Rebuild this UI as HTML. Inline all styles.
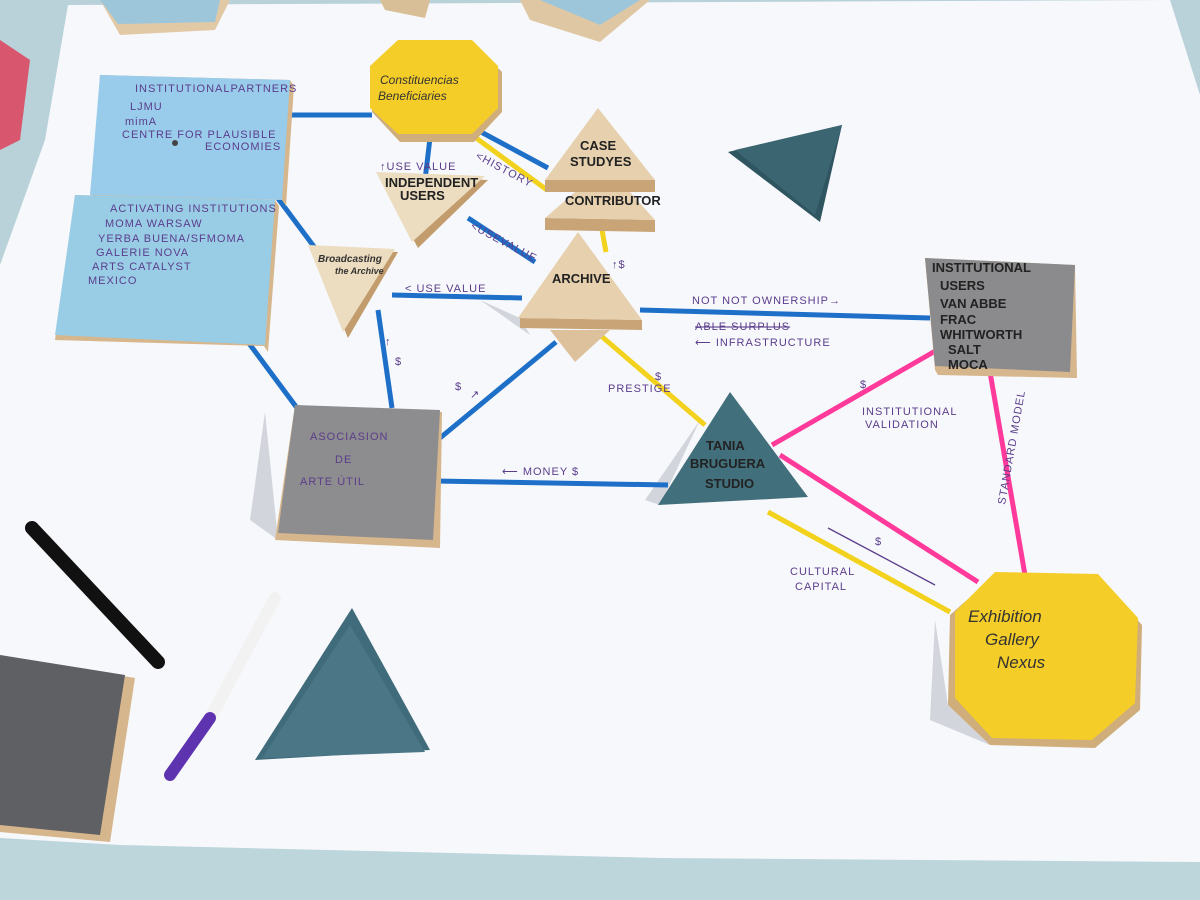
<!DOCTYPE html>
<html><head><meta charset="utf-8"><style>
html,body{margin:0;padding:0;width:1200px;height:900px;overflow:hidden;background:#b9d2d9}
svg{display:block}
text{font-family:"Liberation Sans",sans-serif}
.p{fill:#5b3d8c;font-size:11px;letter-spacing:1px}
.k{fill:#222;font-size:13px;font-weight:bold}
</style></head><body>
<svg width="1200" height="900" viewBox="0 0 1200 900">
<rect width="1200" height="900" fill="#b9d2d9"/>
<rect x="0" y="840" width="1200" height="60" fill="#bcd6dc"/>
<path d="M0,40 L30,60 L20,140 L0,150Z" fill="#d8576f"/>
<polygon points="68,5 1170,0 1200,95 1200,862 660,858 120,845 0,838 0,265 45,140" fill="#f7f8fb"/>
<polygon points="100,0 230,0 215,30 120,35" fill="#e2c9a6"/><polygon points="100,0 220,0 215,22 118,24" fill="#9ec6da"/>
<polygon points="380,0 430,0 425,18 385,10" fill="#d9bf98"/>
<polygon points="520,0 650,0 600,42 530,20" fill="#e0c7a3"/><polygon points="540,0 640,0 600,25" fill="#9ec6da"/>
<!-- shadows -->
<g fill="#c9ccd6" opacity="0.8">
<polygon points="265,412 278,540 250,520"/>
<polygon points="645,500 700,420 660,505"/>
<polygon points="935,620 948,705 990,745 930,720"/>
<polygon points="480,300 520,318 530,335"/>
</g>
<!-- blue lines -->
<g stroke="#1e6fc8" stroke-width="5" fill="none">
<line x1="285" y1="115" x2="372" y2="115"/>
<line x1="268" y1="185" x2="318" y2="252"/>
<line x1="245" y1="338" x2="300" y2="412"/>
<line x1="378" y1="310" x2="392" y2="408"/>
<line x1="440" y1="438" x2="556" y2="342"/>
<line x1="392" y1="295" x2="522" y2="298"/>
<line x1="640" y1="310" x2="930" y2="318"/>
<line x1="435" y1="481" x2="668" y2="485"/>
<line x1="468" y1="218" x2="535" y2="262"/>
<line x1="430" y1="138" x2="425" y2="180"/>
<line x1="470" y1="126" x2="548" y2="168"/>
</g>
<g stroke="#f2d21c" stroke-width="5" fill="none">
<line x1="468" y1="132" x2="547" y2="190"/>
<line x1="600" y1="335" x2="705" y2="425"/>
<line x1="768" y1="512" x2="950" y2="612"/>
<line x1="602" y1="230" x2="606" y2="252"/>
</g>
<g stroke="#ff3a9a" stroke-width="5" fill="none">
<line x1="772" y1="445" x2="937" y2="350"/>
<line x1="780" y1="455" x2="978" y2="582"/>
<line x1="990" y1="372" x2="1025" y2="575"/>
</g>
<!-- blue boards -->
<polygon points="100,75 290,80 294,86 286,206 282,200 92,196" fill="#d6b68c"/>
<polygon points="100,75 290,80 282,200 90,195" fill="#98ccea"/>
<polygon points="75,195 275,200 279,206 268,352 264,346 55,340" fill="#d6b68c"/>
<polygon points="75,195 275,200 265,345 55,335" fill="#99cde6"/>
<circle cx="175" cy="143" r="3" fill="#444"/>
<text class="p" x="135" y="92" font-size="8">INSTITUTIONALPARTNERS</text>
<text class="p" x="130" y="110">LJMU</text><text class="p" x="125" y="125">mimA</text>
<text class="p" x="122" y="138" font-size="9">CENTRE FOR PLAUSIBLE</text><text class="p" x="205" y="150" font-size="9">ECONOMIES</text>
<text class="p" x="110" y="212" font-size="9">ACTIVATING INSTITUTIONS</text>
<text class="p" x="105" y="227">MOMA WARSAW</text><text class="p" x="98" y="242">YERBA BUENA/SFMOMA</text>
<text class="p" x="96" y="256">GALERIE NOVA</text><text class="p" x="92" y="270">ARTS CATALYST</text><text class="p" x="88" y="284">MEXICO</text>
<!-- yellow octagon top -->
<polygon points="398,45 472,42 502,72 502,112 474,142 400,142 372,112 372,75" fill="#cfae7c"/>
<polygon points="398,40 472,40 498,66 498,108 472,134 398,134 370,108 370,66" fill="#f4cd28"/>
<text x="380" y="84" fill="#333" font-size="12" font-family="Liberation Serif,serif" font-style="italic">Constituencias</text>
<text x="378" y="100" fill="#333" font-size="12" font-family="Liberation Serif,serif" font-style="italic">Beneficiaries</text>
<!-- wood triangles -->
<polygon points="545,180 655,180 655,192 545,192" fill="#c8a476"/>
<polygon points="598,108 655,180 545,180" fill="#e6d0ae"/>
<text class="k" x="580" y="150" font-size="10">CASE</text><text class="k" x="570" y="166" font-size="10">STUDYES</text>
<polygon points="545,218 655,220 655,232 545,230" fill="#c8a476"/>
<polygon points="575,192 630,192 655,220 545,218" fill="#e6d0ae"/>
<text class="k" x="565" y="205" font-size="8">CONTRIBUTOR</text>
<polygon points="378,175 488,180 418,248" fill="#c29c6c"/>
<polygon points="376,172 485,176 412,242" fill="#ecdcc0"/>
<text class="k" x="385" y="187" font-size="10">INDEPENDENT</text><text class="k" x="400" y="200" font-size="10">USERS</text>
<polygon points="310,248 398,252 348,338" fill="#c29c6c"/>
<polygon points="308,245 395,249 343,332" fill="#ecdcc0"/>
<text x="318" y="262" fill="#333" font-size="10" font-style="italic" font-weight="bold">Broadcasting</text>
<text x="335" y="274" fill="#333" font-size="9" font-style="italic" font-weight="bold">the Archive</text>
<polygon points="550,330 610,330 575,362" fill="#dcc19c"/>
<polygon points="520,318 642,320 642,330 520,328" fill="#c8a476"/>
<polygon points="578,232 642,320 518,318" fill="#e6d0ae"/>
<text class="k" x="552" y="283" font-size="11">ARCHIVE</text>
<!-- teal triangles -->
<polygon points="728,152 842,125 820,222" fill="#2f5560"/>
<polygon points="735,150 842,125 815,215" fill="#3b6571"/>
<polygon points="352,608 430,750 255,760" fill="#3f6b7a"/>
<polygon points="350,625 425,752 262,758" fill="#4b7686"/>
<polygon points="730,392 808,497 658,505" fill="#426f7c"/>
<text class="k" x="706" y="450" font-size="12">TANIA</text><text class="k" x="690" y="468" font-size="12">BRUGUERA</text><text class="k" x="705" y="488" font-size="11">STUDIO</text>
<!-- gray boxes -->
<polygon points="925,258 1075,265 1077,378 938,375 935,370" fill="#d6b68c"/>
<polygon points="925,258 1075,265 1070,372 935,366" fill="#8b8a8c"/>
<text class="k" x="932" y="272" font-size="10">INSTITUTIONAL</text><text class="k" x="940" y="290" font-size="11">USERS</text>
<text class="k" x="940" y="308" font-size="12">VAN ABBE</text><text class="k" x="940" y="324" font-size="12">FRAC</text>
<text class="k" x="940" y="339" font-size="10">WHITWORTH</text><text class="k" x="948" y="354" font-size="12">SALT</text><text class="k" x="948" y="369" font-size="12">MOCA</text>
<polygon points="295,405 442,412 440,548 275,540" fill="#d6b68c"/>
<polygon points="295,405 440,410 433,540 278,533" fill="#8d8c8e"/>
<text class="p" x="310" y="440" font-size="13">ASOCIASION</text><text class="p" x="335" y="463" font-size="13">DE</text><text class="p" x="300" y="485" font-size="13">ARTE ÚTIL</text>
<polygon points="0,655 135,678 110,842 0,832" fill="#d6b68c"/>
<polygon points="0,655 125,675 100,835 0,825" fill="#5f6064"/>
<!-- pens -->
<line x1="32" y1="528" x2="158" y2="662" stroke="#111" stroke-width="14" stroke-linecap="round"/>
<line x1="275" y1="598" x2="210" y2="718" stroke="#f2f2f2" stroke-width="12" stroke-linecap="round"/>
<line x1="210" y1="718" x2="170" y2="775" stroke="#5d33b0" stroke-width="12" stroke-linecap="round"/>
<!-- exhibition octagon -->
<polygon points="995,575 1100,578 1142,625 1140,710 1095,748 990,745 948,705 950,615" fill="#cfae7c"/>
<polygon points="995,572 1098,574 1138,618 1135,703 1092,740 992,738 955,698 955,612" fill="#f4cd28"/>
<text x="968" y="622" fill="#333" font-size="17" font-style="italic" font-family="Liberation Serif,serif">Exhibition</text>
<text x="985" y="645" fill="#333" font-size="17" font-style="italic" font-family="Liberation Serif,serif">Gallery</text>
<text x="997" y="668" fill="#333" font-size="17" font-style="italic" font-family="Liberation Serif,serif">Nexus</text>
<!-- labels -->
<text class="p" x="475" y="158" transform="rotate(28 475 158)" font-size="9">&lt;HISTORY</text>
<text class="p" x="380" y="170" font-size="8">↑USE VALUE</text>
<text class="p" x="470" y="228" transform="rotate(28 470 228)" font-size="9">&lt;USEVALUE</text>
<text class="p" x="405" y="292">&lt; USE VALUE</text>
<text class="p" x="612" y="268">↑$</text>
<text class="p" x="692" y="304">NOT NOT OWNERSHIP→</text>
<text class="p" x="695" y="330" text-decoration="line-through">ABLE SURPLUS</text>
<text class="p" x="695" y="346">⟵ INFRASTRUCTURE</text>
<text class="p" x="385" y="345">↑</text><text class="p" x="395" y="365">$</text>
<text class="p" x="455" y="390">$</text><text class="p" x="470" y="398" font-size="14">↗</text>
<text class="p" x="608" y="392" font-size="9">PRESTIGE</text><text class="p" x="655" y="380" font-size="14">$</text>
<text class="p" x="502" y="475">⟵ MONEY $</text>
<text class="p" x="860" y="388">$</text>
<text class="p" x="862" y="415" font-size="9">INSTITUTIONAL</text><text class="p" x="865" y="428" font-size="9">VALIDATION</text>
<text class="p" x="1005" y="505" transform="rotate(-80 1005 505)" font-size="9">STANDARD MODEL</text>
<text class="p" x="875" y="545">$</text>
<line x1="935" y1="585" x2="828" y2="528" stroke="#5b3d8c" stroke-width="1.3"/>
<text class="p" x="790" y="575">CULTURAL</text><text class="p" x="795" y="590">CAPITAL</text>
</svg>
</body></html>
